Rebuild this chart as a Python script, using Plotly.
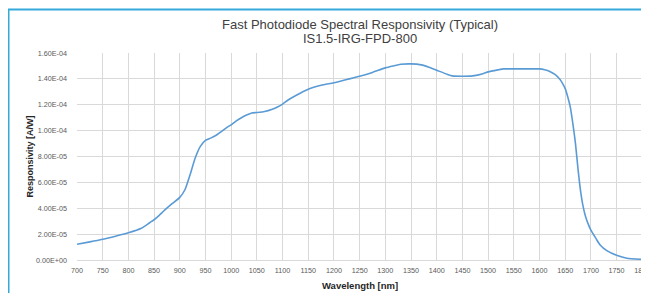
import plotly.graph_objects as go

wavelength = [700, 725, 750, 775, 800, 825, 842, 850, 860, 870, 885, 900, 910, 920, 930, 940, 950, 960, 970, 980, 990,
              1000, 1010, 1020, 1030, 1040, 1050, 1065, 1080, 1090, 1100, 1110, 1125, 1150, 1175, 1200, 1225, 1250,
              1275, 1300, 1315, 1330, 1350, 1370, 1385, 1400, 1420, 1430, 1450, 1470, 1490, 1500, 1520, 1530, 1550,
              1575, 1600, 1610, 1620, 1630, 1640, 1645, 1650, 1655, 1660, 1665, 1670, 1675, 1680, 1685, 1690, 1695,
              1700, 1710, 1718, 1731, 1750, 1770, 1800, 1815]
responsivity = [1.22e-5, 1.40e-5, 1.60e-5, 1.84e-5, 2.10e-5, 2.45e-5, 2.90e-5, 3.11e-5, 3.45e-5, 3.83e-5, 4.35e-5,
                4.84e-5, 5.43e-5, 6.59e-5, 7.88e-5, 8.78e-5, 9.24e-5, 9.42e-5, 9.62e-5, 9.90e-5, 1.02e-4,
                1.045e-4, 1.075e-4, 1.10e-4, 1.12e-4, 1.136e-4, 1.140e-4, 1.148e-4, 1.166e-4, 1.183e-4, 1.205e-4,
                1.235e-4, 1.27e-4, 1.32e-4, 1.35e-4, 1.37e-4, 1.395e-4, 1.42e-4, 1.45e-4, 1.485e-4, 1.50e-4,
                1.513e-4, 1.516e-4, 1.508e-4, 1.49e-4, 1.467e-4, 1.436e-4, 1.423e-4, 1.42e-4, 1.423e-4, 1.44e-4,
                1.454e-4, 1.47e-4, 1.477e-4, 1.477e-4, 1.477e-4, 1.477e-4, 1.47e-4, 1.457e-4, 1.434e-4, 1.395e-4,
                1.364e-4, 1.325e-4, 1.26e-4, 1.18e-4, 1.05e-4, 8.99e-5, 7.0e-5, 5.3e-5, 4.1e-5, 3.3e-5, 2.75e-5,
                2.3e-5, 1.65e-5, 1.16e-5, 7.2e-6, 3.6e-6, 1.3e-6, 5e-7, 3e-7]

x_ticks = list(range(700, 1801, 50))
y_tick_vals = [0, 2e-5, 4e-5, 6e-5, 8e-5, 1.0e-4, 1.2e-4, 1.4e-4, 1.6e-4]
y_tick_text = ["0.00E+00", "2.00E-05", "4.00E-05", "6.00E-05", "8.00E-05",
               "1.00E-04", "1.20E-04", "1.40E-04", "1.60E-04"]

# The page body has an 8px margin; the figure is sized to fill the visible window.
OFF = 8
W, H = 649 - OFF, 293 - OFF
L, R, T = 77 - OFF, 0, 53 - OFF
B = H - (260 - OFF)
pw = W - L - R
ph = H - T - B

def px(page_x):
    return (page_x - OFF - L) / pw

def py(page_y):
    return (H - B - (page_y - OFF)) / ph

fig = go.Figure()
fig.add_trace(go.Scatter(x=wavelength, y=responsivity, mode="lines",
                         line=dict(color="#5B9BD5", width=1.6, shape="spline", smoothing=0.6),
                         hoverinfo="x+y"))

grid = "#D9D9D9"
tickfont = dict(family="Liberation Sans, Arial", size=7.2, color="#595959")
fig.update_layout(
    width=W, height=H,
    margin=dict(l=L, r=R, t=T, b=B, autoexpand=False),
    paper_bgcolor="white", plot_bgcolor="white",
    showlegend=False,
    xaxis=dict(range=[700, 1800 + (649 - 642.3) / 0.5133], tickvals=x_ticks, ticktext=[str(v) for v in x_ticks],
               showgrid=True, gridcolor=grid, gridwidth=1, zeroline=False,
               showline=True, linecolor=grid, linewidth=1, automargin=False,
               ticklabeloverflow="allow",
               tickfont=tickfont, ticks="", ticklabelstandoff=3, fixedrange=True),
    yaxis=dict(range=[0, 1.6e-4], tickvals=y_tick_vals, ticktext=y_tick_text,
               showgrid=True, gridcolor=grid, gridwidth=1, zeroline=False, automargin=False,
               showline=False, tickfont=tickfont, ticks="", ticklabelstandoff=9, fixedrange=True),
    annotations=[
        dict(text="Fast Photodiode Spectral Responsivity (Typical)", x=px(360), y=py(24), xref="paper", yref="paper",
             showarrow=False, font=dict(family="Liberation Sans, Arial", size=13, color="#404040"),
             xanchor="center", yanchor="middle"),
        dict(text="IS1.5-IRG-FPD-800", x=px(360), y=py(39), xref="paper", yref="paper",
             showarrow=False, font=dict(family="Liberation Sans, Arial", size=13, color="#404040"),
             xanchor="center", yanchor="middle"),
        dict(text="<b>Wavelength [nm]</b>", x=px(360), y=py(285), xref="paper", yref="paper",
             showarrow=False, font=dict(family="Liberation Sans, Arial", size=9.5, color="#262626"),
             xanchor="center", yanchor="middle"),
        dict(text="<b>Responsivity [A/W]</b>", x=px(29.5), y=py(157), xref="paper", yref="paper",
             showarrow=False, textangle=-90,
             font=dict(family="Liberation Sans, Arial", size=9, color="#262626"),
             xanchor="center", yanchor="middle"),
    ],
    shapes=[
        dict(type="line", xref="paper", yref="paper", x0=px(8.5), x1=px(8.5), y0=py(9), y1=py(300),
             line=dict(color="#35A9DC", width=2)),
        dict(type="line", xref="paper", yref="paper", x0=px(7.5), x1=px(660), y0=py(9.5), y1=py(9.5),
             line=dict(color="#35A9DC", width=2)),
    ],
)

fig.write_html("out.html")
